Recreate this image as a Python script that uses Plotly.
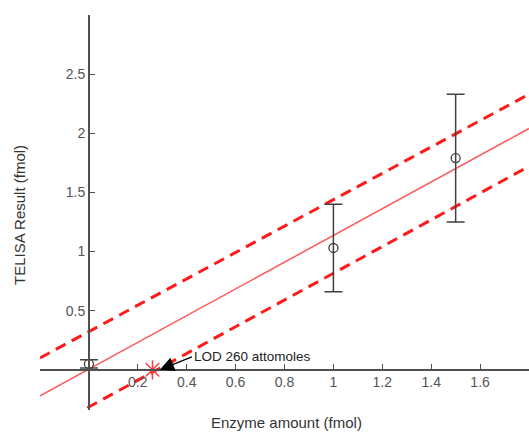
import plotly.graph_objects as go

# Measured data (fmol)
enzyme_x = [0.0, 1.0, 1.5]
telisa_y = [0.05, 1.03, 1.79]
telisa_err = [0.035, 0.37, 0.54]

# Linear fit and prediction bounds (endpoints)
line_x = [-0.2, 1.8]
fit_y = [-0.22, 2.04]
upper_y = [0.10, 2.33]
lower_y = [-0.54, 1.72]

# Limit of detection
lod_x = [0.26]
lod_y = [0.0]
lod_label = "LOD 260 attomoles"

x_ticks = [-0.2, 0.2, 0.4, 0.6, 0.8, 1.0, 1.2, 1.4, 1.6, 1.8]
x_ticktext = ["", "0.2", "0.4", "0.6", "0.8", "1", "1.2", "1.4", "1.6", ""]
y_ticks = [0.5, 1.0, 1.5, 2.0, 2.5, 3.0]
y_ticktext = ["0.5", "1", "1.5", "2", "2.5", ""]

x_range = [-0.2, 1.8]
y_range = [-0.34, 3.0]

axis_color = "#505050"
font_family = "Liberation Sans, Arial, sans-serif"

fig = go.Figure()

fig.add_trace(go.Scatter(x=line_x, y=upper_y, mode="lines",
                         line=dict(color="#ff1a1a", width=3, dash="11px,7px"),
                         showlegend=False, hoverinfo="skip"))
fig.add_trace(go.Scatter(x=line_x, y=lower_y, mode="lines",
                         line=dict(color="#ff1a1a", width=3, dash="11px,7px"),
                         showlegend=False, hoverinfo="skip"))
fig.add_trace(go.Scatter(x=line_x, y=fit_y, mode="lines",
                         line=dict(color="#ff5555", width=1.5),
                         showlegend=False, hoverinfo="skip"))

fig.add_trace(go.Scatter(x=enzyme_x, y=telisa_y, mode="markers",
                         marker=dict(symbol="circle-open", size=9,
                                     color="#404040", line=dict(width=1.3)),
                         error_y=dict(type="data", array=telisa_err, visible=True,
                                      color="#404040", thickness=1.5, width=9),
                         showlegend=False))

fig.add_trace(go.Scatter(x=lod_x, y=lod_y, mode="markers",
                         marker=dict(symbol="asterisk-open", size=16,
                                     color="#ff4040", line=dict(width=1.5, color="#ff4040")),
                         showlegend=False))

fig.add_annotation(x=0.29, y=0.0, xref="x", yref="y",
                   text=lod_label, showarrow=True,
                   ax=32, ay=-13, xanchor="left", yanchor="middle",
                   arrowhead=2, arrowsize=2.2, arrowwidth=1.3, arrowcolor="black",
                   font=dict(size=13.5, color="#222222", family=font_family))

fig.add_annotation(x=0.505, y=-0.006, xref="paper", yref="paper",
                   text="Enzyme amount (fmol)", showarrow=False,
                   xanchor="center", yanchor="top",
                   font=dict(size=15, color="#333333", family=font_family))
fig.add_annotation(x=-0.042, y=0.495, xref="paper", yref="paper",
                   text="TELISA Result (fmol)", showarrow=False, textangle=-90,
                   xanchor="center", yanchor="middle",
                   font=dict(size=15, color="#333333", family=font_family))

fig.update_layout(
    width=529, height=434,
    margin=dict(l=40, r=0, t=15, b=24),
    paper_bgcolor="white", plot_bgcolor="white",
    font=dict(family=font_family, size=13.5, color="#444444"),
    xaxis=dict(range=x_range, anchor="free", automargin=False,
               position=(0 - y_range[0]) / (y_range[1] - y_range[0]),
               tickmode="array", tickvals=x_ticks, ticktext=x_ticktext,
               ticks="inside", ticklen=5, tickwidth=1.3, tickcolor=axis_color,
               tickfont=dict(size=14, color="#555555"),
               showline=True, linecolor=axis_color, linewidth=1.8,
               showgrid=False, zeroline=False),
    yaxis=dict(range=y_range, anchor="free", automargin=False,
               position=(0 - x_range[0]) / (x_range[1] - x_range[0]),
               tickmode="array", tickvals=y_ticks, ticktext=y_ticktext,
               ticks="inside", ticklen=5, tickwidth=1.3, tickcolor=axis_color,
               tickfont=dict(size=14, color="#555555"),
               showline=True, linecolor=axis_color, linewidth=1.8,
               showgrid=False, zeroline=False),
)

fig.write_html("out.html",
               config={"displayModeBar": False},
               post_script="document.body.style.margin='0px';document.body.style.overflow='hidden';")
